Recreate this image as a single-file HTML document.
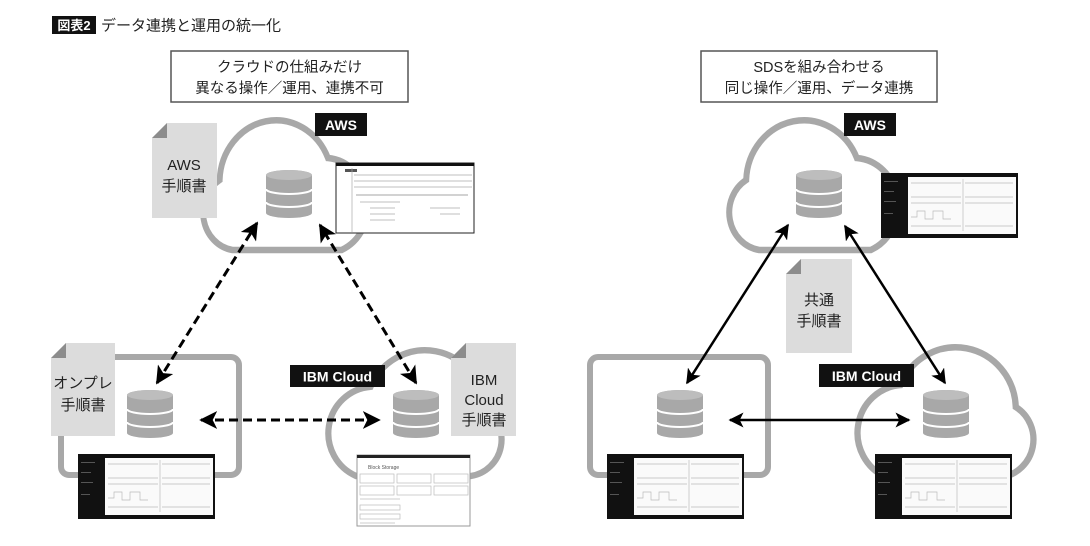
<!DOCTYPE html>
<html><head><meta charset="utf-8"><style>
html,body{margin:0;padding:0;background:#fff}
svg{display:block}
text{font-family:"Liberation Sans","Noto Sans CJK JP",sans-serif}
</style></head><body>
<svg width="1090" height="546" viewBox="0 0 1090 546" xmlns="http://www.w3.org/2000/svg">
<defs>
<path id="cl" d="M 40 132 A 38 38 0 0 1 26 62 A 62 62 0 0 1 145 40 A 48 48 0 0 1 160 132 Z"/>
<g id="db">
 <path d="M0 5 A23 5 0 0 1 46 5 V43 A23 5 0 0 1 0 43 Z" fill="#a8a8a8"/>
 <ellipse cx="23" cy="5" rx="23" ry="5" fill="#bdbdbd"/>
 <path d="M0 19 A23 5 0 0 0 46 19" fill="none" stroke="#fff" stroke-width="2"/>
 <path d="M0 32 A23 5 0 0 0 46 32" fill="none" stroke="#fff" stroke-width="2"/>
</g>
<g id="dark">
 <rect x="0" y="0" width="137" height="65" fill="#111"/>
 <rect x="27" y="4" width="108" height="57" fill="#fafafa"/>
 <g stroke="#bbb" stroke-width="0.7" fill="none">
  <line x1="30" y1="10" x2="80" y2="10"/><line x1="84" y1="10" x2="132" y2="10"/>
  <line x1="30" y1="24" x2="80" y2="24"/><line x1="84" y1="24" x2="132" y2="24"/>
  <line x1="30" y1="30" x2="80" y2="30"/><line x1="84" y1="30" x2="132" y2="30"/>
  <polyline points="30,44 36,44 36,38 44,38 44,46 52,46 52,38 62,38 62,46 70,46"/>
  <line x1="30" y1="53" x2="80" y2="53"/><line x1="84" y1="53" x2="132" y2="53"/>
  <line x1="82" y1="6" x2="82" y2="58"/>
 </g>
 <g fill="#555"><rect x="3" y="8" width="14" height="1"/><rect x="3" y="18" width="10" height="1"/><rect x="3" y="28" width="12" height="1"/><rect x="3" y="40" width="9" height="1"/></g>
</g>
<marker id="ah" viewBox="0 0 10 10" refX="9" refY="5" markerWidth="6" markerHeight="6" orient="auto-start-reverse" markerUnits="strokeWidth">
 <path d="M0 0 L10 5 L0 10 L2.5 5 Z" fill="#000"/>
</marker>
</defs>

<!-- title -->
<rect x="52" y="16" width="44" height="18" fill="#111"/>
<text x="74" y="30" font-size="13" fill="#fff" text-anchor="middle" font-weight="bold">図表2</text>
<text x="101" y="30.5" font-size="15" fill="#222">データ連携と運用の統一化</text>

<!-- LEFT -->
<rect x="171" y="51" width="237" height="51" fill="#fff" stroke="#555" stroke-width="1.5"/>
<text x="289.5" y="72" font-size="14.5" text-anchor="middle" fill="#222">クラウドの仕組みだけ</text>
<text x="289.5" y="93" font-size="14.5" text-anchor="middle" fill="#222">異なる操作／運用、連携不可</text>

<g transform="translate(196,118) scale(0.91,1)"><use href="#cl" fill="#fff" stroke="#a8a8a8" stroke-width="6.5" style="vector-effect:non-scaling-stroke"/></g>
<rect x="315" y="113" width="52" height="23" fill="#111"/>
<text x="341" y="130" font-size="14" font-weight="bold" text-anchor="middle" fill="#fff">AWS</text>
<polygon points="167,123 217,123 217,218 152,218 152,138" fill="#dcdcdc"/>
<polygon points="152,138 167,123 167,138" fill="#8c8c8c"/>
<text x="184" y="170" font-size="15" text-anchor="middle" fill="#222">AWS</text>
<text x="184" y="191" font-size="15" text-anchor="middle" fill="#222">手順書</text>
<use href="#db" x="266" y="170"/>
<g>
 <rect x="336" y="163" width="138" height="70" fill="#fff" stroke="#222" stroke-width="1"/>
 <rect x="336" y="163" width="138" height="3" fill="#111"/>
 <rect x="345" y="169" width="12" height="3" fill="#555"/>
 <g stroke="#aaa" stroke-width="0.7">
  <line x1="352" y1="168" x2="352" y2="232"/>
  <line x1="354" y1="175" x2="472" y2="175"/><line x1="354" y1="181" x2="472" y2="181"/><line x1="354" y1="187" x2="472" y2="187"/>
  <line x1="356" y1="195" x2="468" y2="195" stroke="#888"/>
  <line x1="360" y1="202" x2="400" y2="202"/><line x1="370" y1="208" x2="395" y2="208"/><line x1="370" y1="214" x2="395" y2="214"/><line x1="370" y1="220" x2="395" y2="220"/><line x1="430" y1="208" x2="460" y2="208"/><line x1="440" y1="214" x2="460" y2="214"/>
 </g>
</g>

<rect x="61" y="357" width="178" height="118" rx="8" fill="#fff" stroke="#a8a8a8" stroke-width="6"/>
<polygon points="66,343 115,343 115,436 51,436 51,358" fill="#dcdcdc"/>
<polygon points="51,358 66,343 66,358" fill="#8c8c8c"/>
<text x="83" y="388" font-size="15" text-anchor="middle" fill="#222">オンプレ</text>
<text x="83" y="410" font-size="15" text-anchor="middle" fill="#222">手順書</text>
<use href="#db" x="127" y="390"/>
<use href="#dark" x="78" y="454"/>

<g transform="translate(509,348) scale(-0.955,0.97)"><use href="#cl" fill="#fff" stroke="#a8a8a8" stroke-width="6.5" style="vector-effect:non-scaling-stroke"/></g>
<rect x="290" y="365" width="95" height="22" fill="#111"/>
<text x="337.5" y="381.5" font-size="14" font-weight="bold" text-anchor="middle" fill="#fff">IBM Cloud</text>
<polygon points="466,343 516,343 516,436 451,436 451,358" fill="#dcdcdc"/>
<polygon points="451,358 466,343 466,358" fill="#8c8c8c"/>
<text x="484" y="385" font-size="15" text-anchor="middle" fill="#222">IBM</text>
<text x="484" y="405" font-size="15" text-anchor="middle" fill="#222">Cloud</text>
<text x="484" y="425" font-size="15" text-anchor="middle" fill="#222">手順書</text>
<use href="#db" x="393" y="390"/>
<g>
 <rect x="357" y="455" width="113" height="71" fill="#fff" stroke="#999" stroke-width="1"/>
 <rect x="357" y="455" width="113" height="3" fill="#222"/>
 <g stroke="#bbb" stroke-width="0.7" fill="none">
  <rect x="360" y="474" width="34" height="9"/><rect x="397" y="474" width="34" height="9"/><rect x="434" y="474" width="34" height="9"/>
  <rect x="360" y="486" width="34" height="9"/><rect x="397" y="486" width="34" height="9"/><rect x="434" y="486" width="34" height="9"/>
  <line x1="360" y1="499" x2="400" y2="499"/><rect x="360" y="505" width="40" height="5"/><rect x="360" y="514" width="40" height="5"/><line x1="360" y1="523" x2="395" y2="523"/>
 </g>
 <text x="368" y="469" font-size="5" fill="#555">Block Storage</text>
</g>

<g stroke="#000" stroke-width="3" stroke-dasharray="9 5" fill="none">
 <line x1="157" y1="383" x2="257" y2="223" marker-start="url(#ah)" marker-end="url(#ah)"/>
 <line x1="416" y1="383" x2="320" y2="225" marker-start="url(#ah)" marker-end="url(#ah)"/>
 <line x1="201" y1="420" x2="379" y2="420" marker-start="url(#ah)" marker-end="url(#ah)"/>
</g>

<!-- RIGHT -->
<rect x="701" y="51" width="236" height="51" fill="#fff" stroke="#555" stroke-width="1.5"/>
<text x="819" y="72" font-size="14.5" text-anchor="middle" fill="#222">SDSを組み合わせる</text>
<text x="819" y="93" font-size="14.5" text-anchor="middle" fill="#222">同じ操作／運用、データ連携</text>

<g transform="translate(722,118) scale(0.93,1)"><use href="#cl" fill="#fff" stroke="#a8a8a8" stroke-width="6.5" style="vector-effect:non-scaling-stroke"/></g>
<rect x="844" y="113" width="52" height="23" fill="#111"/>
<text x="870" y="130" font-size="14" font-weight="bold" text-anchor="middle" fill="#fff">AWS</text>
<use href="#db" x="796" y="170"/>
<use href="#dark" x="881" y="173"/>

<polygon points="801,259 852,259 852,353 786,353 786,274" fill="#dcdcdc"/>
<polygon points="786,274 801,259 801,274" fill="#8c8c8c"/>
<text x="819" y="305" font-size="15" text-anchor="middle" fill="#222">共通</text>
<text x="819" y="326" font-size="15" text-anchor="middle" fill="#222">手順書</text>

<rect x="590" y="357" width="178" height="118" rx="8" fill="#fff" stroke="#a8a8a8" stroke-width="6"/>
<use href="#db" x="657" y="390"/>
<use href="#dark" x="607" y="454"/>

<g transform="translate(1041,345) scale(-0.97,1)"><use href="#cl" fill="#fff" stroke="#a8a8a8" stroke-width="6.5" style="vector-effect:non-scaling-stroke"/></g>
<rect x="819" y="364" width="95" height="23" fill="#111"/>
<text x="866.5" y="381" font-size="14" font-weight="bold" text-anchor="middle" fill="#fff">IBM Cloud</text>
<use href="#db" x="923" y="390"/>
<use href="#dark" x="875" y="454"/>

<g stroke="#000" stroke-width="2.5" fill="none">
 <line x1="687" y1="383" x2="788" y2="225" marker-start="url(#ah)" marker-end="url(#ah)"/>
 <line x1="945" y1="383" x2="845" y2="226" marker-start="url(#ah)" marker-end="url(#ah)"/>
 <line x1="730" y1="420" x2="909" y2="420" marker-start="url(#ah)" marker-end="url(#ah)"/>
</g>
</svg>
</body></html>
